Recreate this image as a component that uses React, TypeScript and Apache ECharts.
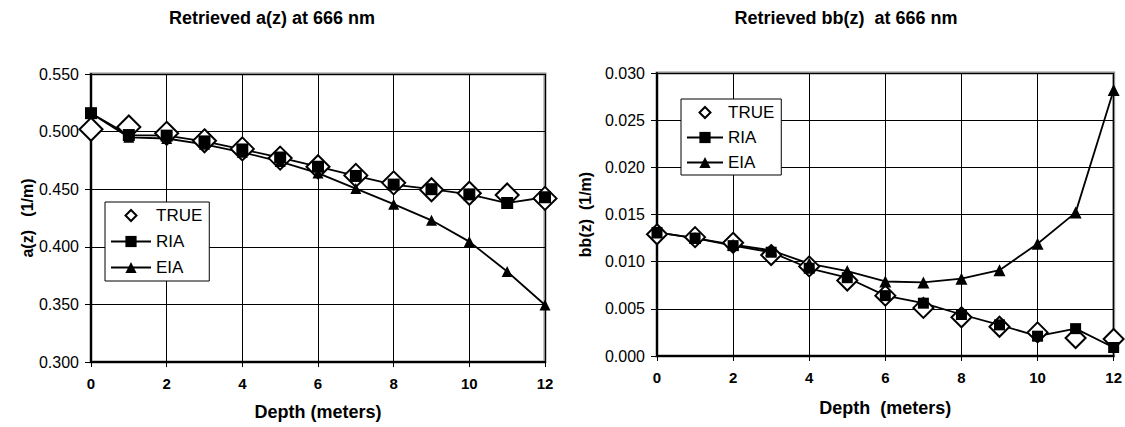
import React, { useEffect, useRef } from "react";
import * as echarts from "echarts";

const DEPTH = [0, 1, 2, 3, 4, 5, 6, 7, 8, 9, 10, 11, 12];

// Left chart: a(z)
const TRUE_A = [0.502, 0.504, 0.4985, 0.492, 0.485, 0.477, 0.4695, 0.462, 0.4555, 0.4495, 0.4465, 0.445, 0.442];
const RIA_A = [0.516, 0.497, 0.4965, 0.4915, 0.4845, 0.4775, 0.4695, 0.4615, 0.454, 0.45, 0.4455, 0.438, 0.443];
const EIA_A = [0.516, 0.495, 0.494, 0.489, 0.482, 0.474, 0.464, 0.4505, 0.437, 0.423, 0.4045, 0.3785, 0.3495];

// Right chart: bb(z)
const TRUE_B = [0.0129, 0.0126, 0.012, 0.0107, 0.0095, 0.008, 0.0064, 0.0051, 0.0041, 0.0031, 0.0025, 0.0019, 0.0018];
const RIA_B = [0.0131, 0.0125, 0.0117, 0.011, 0.0093, 0.0083, 0.0064, 0.0056, 0.0044, 0.0033, 0.0021, 0.0029, 0.0009];
const EIA_B = [0.0131, 0.0125, 0.0118, 0.0112, 0.0098, 0.009, 0.0079, 0.0078, 0.0082, 0.0091, 0.0119, 0.0152, 0.0282];

const LEGEND_NAMES = ["TRUE", "RIA", "EIA"];
const TITLE_A = "Retrieved a(z) at 666 nm";
const TITLE_B = "Retrieved bb(z)  at 666 nm";
const YNAME_A = "a(z)   (1/m)";
const YNAME_B = "bb(z)  (1/m)";
const XNAME_A = "Depth (meters)";
const XNAME_B = "Depth  (meters)";

const FONT = "'Liberation Sans', Arial, sans-serif";

const zip = (ys: number[]) => DEPTH.map((x, i) => [x, ys[i]]);

// small diamond centred in the legend icon box (invisible M points fix the box size)
const legendDiamond = (w: number) => {
  const c = w / 2;
  return `path://M0,0M${w},14M${c},1.5L${c + 5.5},7L${c},12.5L${c - 5.5},7Z`;
};

function makeSeries(idx: number, t: number[], r: number[], e: number[], big: boolean) {
  const common = { xAxisIndex: idx, yAxisIndex: idx };
  return [
    {
      ...common,
      name: "TRUE",
      type: "scatter",
      data: zip(t),
      symbol: "diamond",
      symbolSize: big ? 23 : 20,
      itemStyle: { color: "#fff", borderColor: "#000", borderWidth: 2, opacity: 1 },
      z: 3,
    },
    {
      ...common,
      name: "RIA",
      type: "line",
      data: zip(r),
      symbol: "rect",
      showSymbol: false,
      lineStyle: { color: "#000", width: 1.8 },
      itemStyle: { color: "#000" },
      z: 2,
    },
    {
      ...common,
      name: "EIA",
      type: "line",
      data: zip(e),
      symbol: "triangle",
      showSymbol: false,
      lineStyle: { color: "#000", width: 1.8 },
      itemStyle: { color: "#000" },
      z: 2,
    },
    {
      ...common,
      name: "RIA",
      type: "scatter",
      data: zip(r),
      symbol: "rect",
      symbolSize: big ? 12 : 11,
      itemStyle: { color: "#000", opacity: 1 },
      z: 4,
    },
    {
      ...common,
      name: "EIA",
      type: "scatter",
      data: zip(e),
      symbol: "triangle",
      symbolSize: big ? 11 : 12,
      itemStyle: { color: "#000", opacity: 1 },
      z: 4,
    },
  ];
}

export default function App() {
  const ref = useRef<HTMLDivElement>(null);

  useEffect(() => {
    if (!ref.current) return;
    const chart = echarts.init(ref.current, undefined, { renderer: "svg" });

    const xAxisBase = (idx: number, name: string, gap: number, margin: number) => ({
      gridIndex: idx,
      type: "value",
      min: 0,
      max: 12,
      interval: 2,
      name,
      nameLocation: "middle",
      nameGap: gap,
      nameTextStyle: { fontFamily: FONT, fontSize: 18, fontWeight: "bold", color: "#000" },
      axisLine: { show: true, onZero: false, lineStyle: { color: "#000", width: 2 } },
      axisTick: { show: true, inside: false, length: 5, lineStyle: { color: "#000", width: 1 } },
      axisLabel: { fontFamily: FONT, fontSize: 15, fontWeight: "bold", color: "#000", margin },
      splitLine: { show: true, lineStyle: { color: "#000", width: 1 } },
    });

    const yAxisBase = (
      idx: number,
      name: string,
      min: number,
      max: number,
      interval: number,
      gap: number
    ) => ({
      gridIndex: idx,
      type: "value",
      min,
      max,
      interval,
      name,
      nameLocation: "middle",
      nameRotate: 90,
      nameGap: gap,
      nameTextStyle: { fontFamily: FONT, fontSize: 16, fontWeight: "bold", color: "#000" },
      axisLine: { show: true, onZero: false, lineStyle: { color: "#000", width: 2 } },
      axisTick: { show: true, inside: false, length: 6, lineStyle: { color: "#000", width: 1 } },
      axisLabel: {
        fontFamily: FONT,
        fontSize: 16,
        color: "#000",
        margin: 12,
        formatter: (v: number) => v.toFixed(3),
      },
      splitLine: { show: true, lineStyle: { color: "#000", width: 1 } },
    });

    const legendBase = (
      left: number,
      top: number,
      itemWidth: number,
      gap: number,
      padding: number[]
    ) => ({
      data: LEGEND_NAMES.map((n) =>
        n === "TRUE"
          ? {
              name: n,
              icon: legendDiamond(itemWidth),
              itemStyle: { color: "#fff", borderColor: "#000", borderWidth: 2 },
            }
          : { name: n }
      ),
      orient: "vertical",
      left,
      top,
      itemWidth,
      itemHeight: 14,
      itemGap: gap,
      padding,
      borderColor: "#000",
      borderWidth: 1,
      backgroundColor: "#fff",
      selectedMode: false,
      textStyle: { fontFamily: FONT, fontSize: 17, color: "#000" },
      z: 10,
    });

    chart.setOption({
      animation: false,
      backgroundColor: "#fff",
      grid: [
        {
          left: 91,
          top: 74,
          width: 454,
          height: 288,
          show: true,
          borderColor: "#8c8c8c",
          borderWidth: 3,
          backgroundColor: "#fff",
        },
        {
          left: 657,
          top: 73,
          width: 457,
          height: 283,
          show: true,
          borderColor: "#8c8c8c",
          borderWidth: 3,
          backgroundColor: "#fff",
        },
      ],
      xAxis: [xAxisBase(0, XNAME_A, 41, 14), xAxisBase(1, XNAME_B, 43, 14)],
      yAxis: [
        yAxisBase(0, YNAME_A, 0.3, 0.55, 0.05, 54),
        yAxisBase(1, YNAME_B, 0, 0.03, 0.005, 64),
      ],
      legend: [
        legendBase(105, 202, 40, 9, [5, 7, 5, 5]),
        legendBase(681, 99, 36, 8, [5, 7, 4, 5]),
      ],
      graphic: [
        {
          type: "text",
          x: 272,
          y: 18,
          style: {
            text: TITLE_A,
            fontFamily: FONT,
            fontSize: 18,
            fontWeight: "bold",
            fill: "#000",
            textAlign: "center",
            textVerticalAlign: "middle",
          },
        },
        {
          type: "text",
          x: 846,
          y: 18,
          style: {
            text: TITLE_B,
            fontFamily: FONT,
            fontSize: 18,
            fontWeight: "bold",
            fill: "#000",
            textAlign: "center",
            textVerticalAlign: "middle",
          },
        },
      ],
      series: [
        ...makeSeries(0, TRUE_A, RIA_A, EIA_A, true),
        ...makeSeries(1, TRUE_B, RIA_B, EIA_B, false),
      ],
    } as any);

    return () => {
      chart.dispose();
    };
  }, []);

  return (
    <div
      ref={ref}
      style={{ position: "fixed", left: 0, top: 0, width: "1125px", height: "427px", background: "#fff" }}
    />
  );
}
